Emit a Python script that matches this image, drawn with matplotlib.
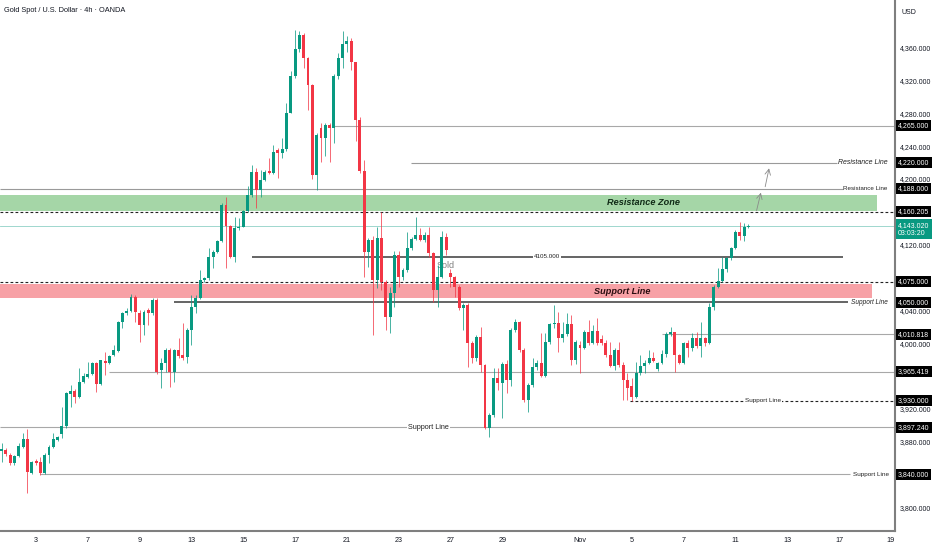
import matplotlib
matplotlib.use("Agg")
import matplotlib.pyplot as plt
from matplotlib.patches import Rectangle
from matplotlib.ticker import FuncFormatter, FixedLocator

plt.rcParams['font.family'] = ['Liberation Sans Narrow', 'Liberation Sans', 'DejaVu Sans']

# ---------------- data (4h candles, index = candle number) ----------------
opens = [3868,3870,3864,3854,3862,3873,3883,3842,3856,3855,3842,3864,3873,3882,3889,3899,3938,3942,3934,3953,
         3959,3962,3976,3950,3978,3976,3985,3990,4026,4037,4039,4056,4037,4022,4040,4037,4053,3967,3976,3992,
         3965,3992,3985,3983,4016,4044,4055,4077,4079,4105,4111,4125,4168,4143,4105,4140,4142,4161,4180,4208,
         4187,4199,4210,4207,4235,4232,4236,4281,4325,4358,4376,4348,4314,4205,4262,4250,4266,4262,4326,4348,
         4364,4368,4342,4272,4210,4111,4126,4077,4128,4075,4032,4061,4108,4081,4089,4116,4127,4132,4126,4132,
         4110,4065,4081,4129,4085,4081,4068,4043,4047,4000,3982,4007,3973,3897,3912,3957,3951,3975,3955,4016,
         4026,3992,3931,3949,3971,3976,3960,4001,4023,4025,4006,4011,4023,3979,3998,3994,4014,4000,4015,4005,
         4000,3986,3972,3992,3973,3955,3948,3934,3964,3972,3976,3982,3968,3976,3987,4011,4013,3985,3976,4000,
         3994,4006,3996,4006,4000,4044,4068,4076,4090,4104,4116,4136,4130,4141]
highs = [3878,3872,3866,3864,3878,3890,3896,3857,3859,3861,3866,3876,3890,3887,3922,3940,3949,3944,3970,3964,
         3977,3977,3977,3980,3989,3986,3998,4027,4038,4043,4060,4059,4040,4040,4043,4055,4055,3982,3994,3994,
         3993,4006,4025,4018,4059,4059,4089,4081,4116,4114,4126,4171,4178,4144,4154,4153,4162,4191,4217,4214,
         4211,4211,4226,4242,4238,4250,4292,4331,4381,4380,4378,4349,4316,4256,4268,4268,4268,4328,4354,4380,
         4374,4372,4343,4276,4223,4128,4130,4142,4160,4077,4068,4112,4112,4092,4136,4129,4154,4140,4135,4142,
         4111,4095,4137,4134,4090,4082,4071,4049,4049,4003,4010,4020,3975,3915,3970,3970,3977,3979,4018,4029,
         4027,3994,3951,3982,3979,4012,4012,4025,4047,4038,4026,4037,4034,4004,4003,4016,4028,4022,4031,4010,
         4004,4001,3994,4001,3977,3964,3957,3977,3986,3979,3992,3989,3977,3992,4014,4020,4014,3987,4002,4004,
         4012,4014,4026,4008,4049,4071,4092,4105,4105,4117,4138,4148,4146,4145]
lows = [3855,3863,3852,3852,3861,3872,3818,3840,3851,3839,3840,3854,3872,3881,3885,3897,3922,3927,3933,3952,
        3958,3961,3940,3949,3961,3974,3984,3989,4019,4034,4038,4026,4001,4010,4022,4034,3963,3945,3965,3946,
        3953,3982,3979,3976,3998,4037,4054,4075,4077,4092,4110,4123,4092,4104,4099,4138,4141,4160,4178,4165,
        4178,4197,4206,4206,4201,4225,4234,4280,4323,4355,4335,4284,4200,4187,4221,4228,4221,4244,4322,4335,
        4355,4333,4246,4207,4081,4093,4010,4067,4065,4016,4012,4044,4068,4077,4087,4114,4126,4124,4123,4105,
        4050,4044,4079,4107,4068,4056,4040,4016,3971,3976,3978,3965,3896,3886,3910,3943,3909,3939,3948,4014,
        3989,3928,3916,3946,3967,3959,3959,3999,4019,3989,4001,4009,3973,3975,3964,3993,3998,3999,3998,3998,
        3983,3971,3967,3971,3931,3931,3930,3933,3961,3964,3975,3977,3966,3974,3983,4009,3965,3975,3975,3983,
        3991,3994,3983,3996,3999,4040,4067,4075,4087,4101,4115,4126,4125,4140]
closes = [3871,3865,3854,3862,3875,3883,3843,3855,3854,3842,3864,3873,3883,3886,3899,3939,3942,3934,3953,3960,
          3962,3976,3950,3979,3976,3984,3992,4026,4037,4039,4056,4038,4022,4038,4037,4053,3965,3976,3992,3965,
          3992,3984,3982,4016,4044,4055,4077,4079,4105,4111,4125,4168,4143,4105,4140,4142,4161,4180,4208,4187,
          4199,4208,4207,4233,4232,4236,4281,4325,4358,4376,4348,4314,4205,4254,4250,4266,4262,4326,4348,4364,
          4368,4342,4272,4210,4111,4126,4077,4128,4075,4032,4061,4108,4081,4089,4116,4127,4132,4126,4132,4110,
          4065,4081,4129,4114,4081,4068,4043,4047,4000,3982,4007,3973,3897,3912,3957,3951,3974,3955,4016,4026,
          3992,3931,3949,3971,3976,3960,4001,4023,4025,4006,4011,4023,3979,4001,3994,4014,4000,4015,4000,4000,
          3986,3972,3992,3973,3955,3945,3934,3964,3972,3976,3982,3978,3976,3987,4011,4013,3985,3976,4000,3994,
          4006,3996,4006,4000,4044,4068,4076,4090,4104,4116,4136,4130,4141,4143.02]

date_ticks = [8, 20, 32, 44, 56, 68, 80, 92, 104, 116, 134, 146, 158, 170, 182, 194, 206]
date_labels = ["3", "7", "9", "13", "15", "17", "21", "23", "27", "29", "Nov", "5", "7", "11", "13", "17", "19"]
# regular price scale labels (those fully hidden behind level boxes are left out)
price_ticks = [3800, 3880, 3920, 4000, 4040, 4120, 4200, 4240, 4280, 4320, 4360]

# horizontal levels: (price, start index, end index)
level_lines = {
    "hi_4265": (4265.0, 76.7, 207.5),
    "res_4220": (4220.0, 94.9, 193.5),
    "res_4188": (4188.0, -0.4, 195.0),
    "mid_4105": (4105.0, 58.0, 195.0),
    "sup_4050": (4050.0, 40.0, 196.0),
    "lv_4010": (4010.818, 153.0, 207.5),
    "lv_3965": (3965.419, 25.0, 207.5),
    "sup_3897": (3897.24, -0.4, 207.5),
    "sup_3840": (3840.0, 8.9, 196.5),
}
dashed_levels = [(4160.205, -0.4), (4075.0, -0.4), (3930.0, 145.6)]
current_price = 4143.02
res_zone = (4161.0, 4180.0, 202.8)
sup_zone = (4054.5, 4072.5, 201.6)
axis_boxes = [4265.0, 4220.0, 4188.0, 4160.205, 4075.0, 4050.0, 4010.818, 3965.419, 3930.0, 3897.24, 3840.0]
arrows = [((174.9, 4161.4), (175.9, 4183.4)), ((176.9, 4190.6), (177.8, 4213.0))]

GREEN = '#089981'
RED = '#F23645'
AXFS = 5.0

fig = plt.figure(figsize=(9.32, 5.5), dpi=100)
ax = fig.add_axes([0, 0.0351, 0.9603, 0.9649])
ax.set_xlim(-0.35, 206.97)
ax.set_ylim(3771.5, 4418.1)

# zones
ax.add_patch(Rectangle((-0.4, res_zone[0]), res_zone[2] + 0.4, res_zone[1] - res_zone[0],
                       facecolor='#a5d6a7', edgecolor='none', zorder=1))
ax.add_patch(Rectangle((-0.4, sup_zone[0]), sup_zone[2] + 0.4, sup_zone[1] - sup_zone[0],
                       facecolor='#f7a1a6', edgecolor='none', zorder=1))
ax.text(148.6, (res_zone[0] + res_zone[1]) / 2 + 1, "Resistance Zone", ha='center', va='center',
        fontsize=6.6, fontweight='bold', style='italic', color='#102a16', zorder=5)
ax.text(143.7, (sup_zone[0] + sup_zone[1]) / 2, "Support Line", ha='center', va='center',
        fontsize=6.6, fontweight='bold', style='italic', color='#2a0d10', zorder=5)

# level lines
light = '#a8a8a8'
dark = '#3a3a3a'
styles = {"hi_4265": (light, 0.8), "res_4220": ('#9a9a9a', 0.8), "res_4188": ('#9a9a9a', 0.8),
          "mid_4105": (dark, 1.1), "sup_4050": (dark, 1.1), "lv_4010": (light, 0.8),
          "lv_3965": (light, 0.8), "sup_3897": (light, 0.8), "sup_3840": (light, 0.8)}
for key, (p, x0, x1) in level_lines.items():
    c, lw = styles[key]
    ax.hlines(p, x0, x1, colors=c, linewidth=lw, zorder=2)
for p, x0 in dashed_levels:
    ax.hlines(p, x0, 207.5, colors='#222222', linewidth=0.8, linestyles=(0, (2.5, 2)), zorder=2)
ax.axhline(current_price, color=GREEN, alpha=0.45, linewidth=0.6, zorder=2)

# labels on lines
ax.text(205.3, 4220.0, "Resistance Line", ha='right', va='center', fontsize=5.0, style='italic', color='#222222')
ax.text(205.3, 4188.0, "Resistance Line", ha='right', va='center', fontsize=4.5, color='#222222')
ax.text(205.3, 4050.0, "Support Line", ha='right', va='center', fontsize=4.7, style='italic', color='#222222')
ax.text(205.5, 3840.0, "Support Line", ha='right', va='center', fontsize=4.6, color='#222222')
box_w = dict(boxstyle='square,pad=0.15', fc='white', ec='none')
ax.text(176.4, 3930.0, "Support Line", ha='center', va='center', fontsize=4.6, color='#222222', bbox=box_w, zorder=4)
ax.text(98.8, 3897.24, "Support Line", ha='center', va='center', fontsize=5.2, color='#222222', bbox=box_w, zorder=4)
ax.text(126.4, 4105.0, "4105.000", ha='center', va='center', fontsize=4.5, color='#222222', bbox=box_w, zorder=4)
ax.text(102.9, 4095.0, "Sold", ha='center', va='center', fontsize=6.5, color='#808080', zorder=2.5)

for start, end in arrows:
    ax.annotate('', xy=end, xytext=start,
                arrowprops=dict(arrowstyle='->', color='#8a8a8a', lw=0.6, shrinkA=0, shrinkB=0))

# candles
for i in range(len(opens)):
    o, h, l, c = opens[i], highs[i], lows[i], closes[i]
    col = GREEN if c >= o else RED
    ax.vlines(i, l, h, colors=col, linewidth=0.7, alpha=0.75, zorder=3)
    bottom = min(o, c)
    height = max(abs(c - o), 1.2)
    ax.bar(i, height, bottom=bottom, width=0.68, color=col, edgecolor='none', zorder=3.2)

# axes styling
for s in ['top', 'left']:
    ax.spines[s].set_visible(False)
for s in ['right', 'bottom']:
    ax.spines[s].set_color('#7f7f7f')
    ax.spines[s].set_linewidth(1.5)
ax.yaxis.set_major_locator(FixedLocator(price_ticks))
ax.yaxis.set_major_formatter(FuncFormatter(lambda v, p: f"{v:,.3f}"))
ax.tick_params(axis='y', left=False, right=False, labelleft=False, labelright=True,
               length=0, pad=3.2, labelsize=AXFS, labelcolor='#131722')
ax.set_xticks(date_ticks)
ax.set_xticklabels(date_labels)
ax.tick_params(axis='x', length=0, pad=4.5, labelsize=5.2, labelcolor='#131722')

# axis price boxes
tr = ax.get_yaxis_transform()
for p in axis_boxes:
    ax.text(1.0035, p, f"{p:,.3f}", transform=tr, ha='left', va='center', fontsize=AXFS, color='white',
            bbox=dict(boxstyle='square,pad=0.3', fc='black', ec='none'), clip_on=False, zorder=6)
ax.text(1.0035, current_price - 4, f"{current_price:,.3f}\n03:03:20", transform=tr, ha='left', va='center',
        fontsize=AXFS, color='white', linespacing=1.2,
        bbox=dict(boxstyle='square,pad=0.3', fc=GREEN, ec='none'), clip_on=False, zorder=6)

fig.text(4 / 932, 1 - 11 / 550, "Gold Spot / U.S. Dollar · 4h · OANDA", fontsize=5.3, va='center',
         color='#131722')
fig.text(902 / 932, 1 - 12 / 550, "USD", fontsize=5.0, va='center', color='#131722')

fig.savefig("out.png", dpi=100)
